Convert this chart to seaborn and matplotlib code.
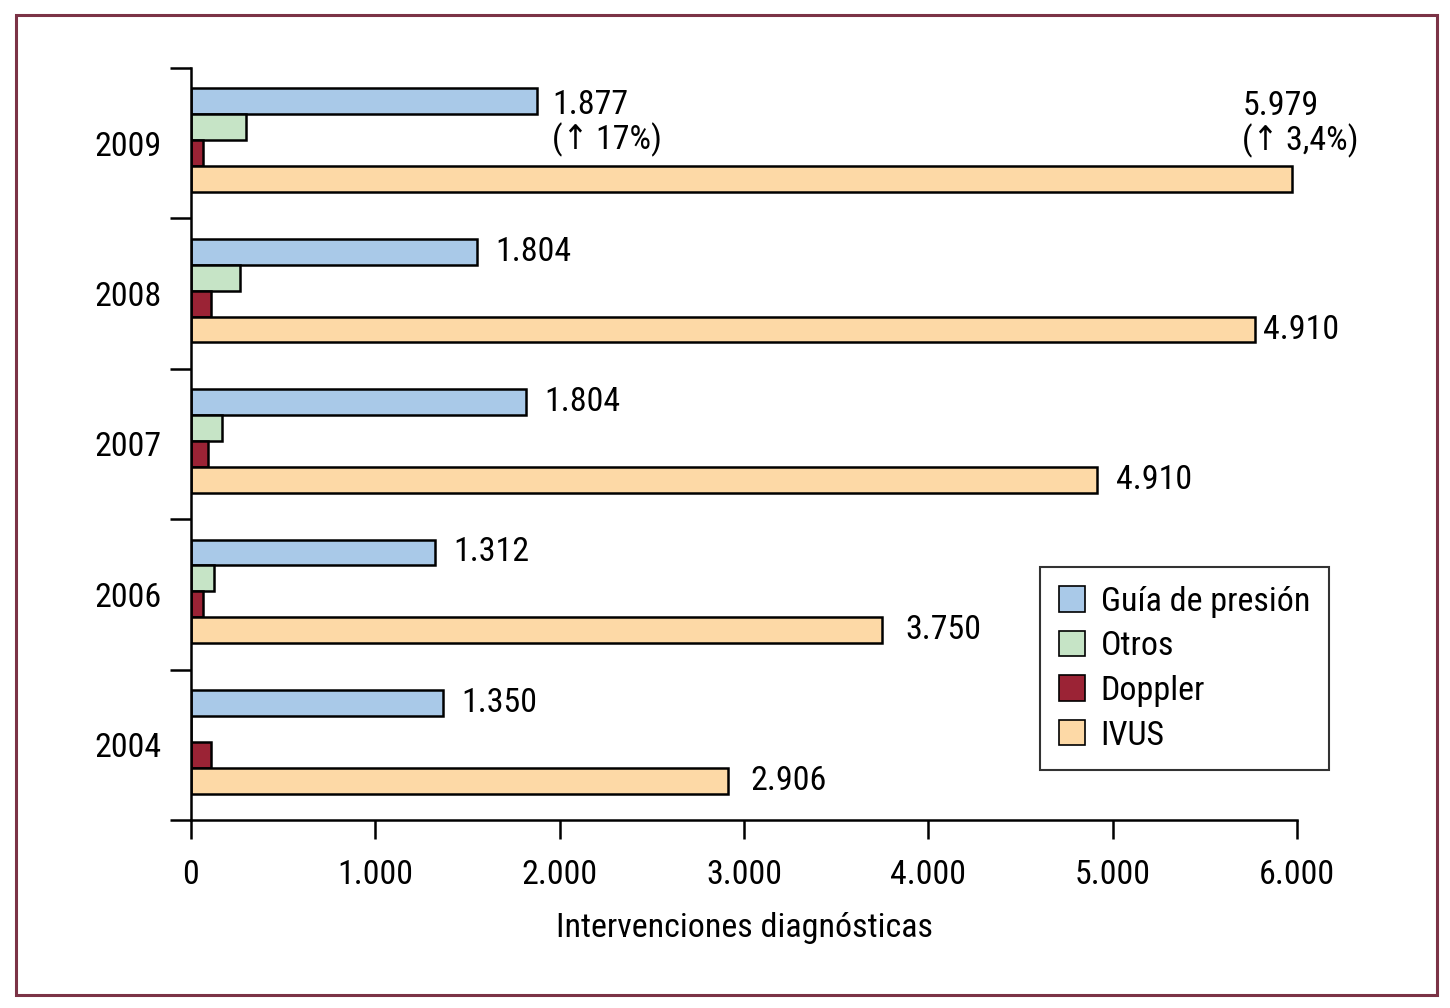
import pandas as pd
import matplotlib.pyplot as plt
import matplotlib.patches as mpatches
import seaborn as sns

# -----------------------------------------------------------
# datos
# -----------------------------------------------------------
anios = ["2009", "2008", "2007", "2006", "2004"]
series = ["Guía de presión", "Otros", "Doppler", "IVUS"]
guia = [1877, 1552, 1818, 1324, 1367]
otros = [298, 266, 168, 125, 0]
doppler = [65, 108, 92, 65, 108]
ivus = [5974, 5773, 4916, 3749, 2914]
etiquetas_guia = ["1.877\n(↑ 17%)", "1.804", "1.804", "1.312", "1.350"]
etiquetas_ivus = ["5.979\n(↑ 3,4%)", "4.910", "4.910", "3.750", "2.906"]
colores = ["#a9c9e8", "#c6e4c6", "#9b2335", "#fdd9a6"]

df = pd.DataFrame({
    "Año": anios * 4,
    "Serie": sum([[s] * len(anios) for s in series], []),
    "Valor": guia + otros + doppler + ivus,
})

sns.set_style("ticks")
plt.rcParams["font.family"] = ["Liberation Sans Narrow", "Roboto Condensed", "Roboto", "DejaVu Sans"]
plt.rcParams["font.stretch"] = "condensed"
for k in ["text.color", "axes.labelcolor", "xtick.color", "ytick.color", "axes.edgecolor"]:
    plt.rcParams[k] = "black"
FS = 24.5
sh = 0.02  # las barras quedan un poco por encima del centro

fig = plt.figure(figsize=(14.5, 10.08), dpi=100)
ax = fig.add_axes([191 / 1450, 1 - 820 / 1008, 1106 / 1450, 752 / 1008])

sns.barplot(data=df, y="Año", x="Valor", hue="Serie", order=anios,
            hue_order=series, palette=colores, orient="h", width=0.69,
            edgecolor="black", linewidth=1.8, saturation=1, ax=ax)

ax.set_xlim(0, 6000)
ax.set_ylim(len(anios) - 0.5 + sh, -0.5 + sh)
ax.set_xticks(range(0, 6001, 1000))
ax.set_xticklabels(["0", "1.000", "2.000", "3.000", "4.000", "5.000", "6.000"])
ax.tick_params(axis="x", labelsize=FS, length=14, width=1.8, pad=14)

# ticks del eje y entre categorias, etiquetas en el centro
ax.set_yticks([i - 0.5 + sh for i in range(len(anios) + 1)])
ax.set_yticklabels([])
ax.set_yticks([i + sh for i in range(len(anios))], minor=True)
ax.set_yticklabels(anios, minor=True)
ax.tick_params(axis="y", which="major", length=15, width=1.8)
ax.tick_params(axis="y", which="minor", length=0, labelsize=FS, pad=21)

ax.set_ylabel("")
ax.set_xlabel("Intervenciones diagnósticas", fontsize=FS, labelpad=15)
sns.despine(ax=ax)
for s in ["left", "bottom"]:
    ax.spines[s].set_linewidth(1.8)

# etiquetas de valores
px = 0.72
for i, rect in enumerate(ax.containers[0]):
    x = rect.get_x() + rect.get_width()
    if i == 0:
        ax.annotate(etiquetas_guia[i], (x, rect.get_y()), xytext=(15 * px, -1 * px),
                    textcoords="offset points", va="top", ha="left",
                    fontsize=FS, linespacing=1.05)
    else:
        ax.annotate(etiquetas_guia[i], (x, rect.get_y() + rect.get_height() / 2),
                    xytext=(18 * px, 0), textcoords="offset points",
                    va="center", ha="left", fontsize=FS)

dx_ivus = [-50, 8, 19, 23, 22]
for i, rect in enumerate(ax.containers[3]):
    x = rect.get_x() + rect.get_width()
    if i == 0:
        ax.annotate(etiquetas_ivus[i], (x, rect.get_y()), xytext=(dx_ivus[i] * px, 76 * px),
                    textcoords="offset points", va="top", ha="left",
                    fontsize=FS, linespacing=1.05)
    else:
        ax.annotate(etiquetas_ivus[i], (x, rect.get_y() + rect.get_height() / 2),
                    xytext=(dx_ivus[i] * px, 0), textcoords="offset points",
                    va="center", ha="left", fontsize=FS)

leg = ax.legend(title=None, loc="upper left", bbox_to_anchor=(0.7676, 0.3364),
                borderaxespad=0, frameon=True, fancybox=False, fontsize=FS,
                handlelength=0.78, handleheight=0.78, handletextpad=0.45,
                labelspacing=0.37, borderpad=0.55)
leg.get_frame().set_edgecolor("black")
leg.get_frame().set_linewidth(1.5)
for h in leg.legend_handles:
    h.set_edgecolor("black")
    h.set_linewidth(1.2)

# marco exterior
fig.patches.append(mpatches.Rectangle((16 / 1450, 1 - 995 / 1008), 1421 / 1450, 980 / 1008,
                                      transform=fig.transFigure, fill=False,
                                      edgecolor="#7b3346", linewidth=2.2))

fig.savefig("out.png", dpi=100, facecolor="white")
